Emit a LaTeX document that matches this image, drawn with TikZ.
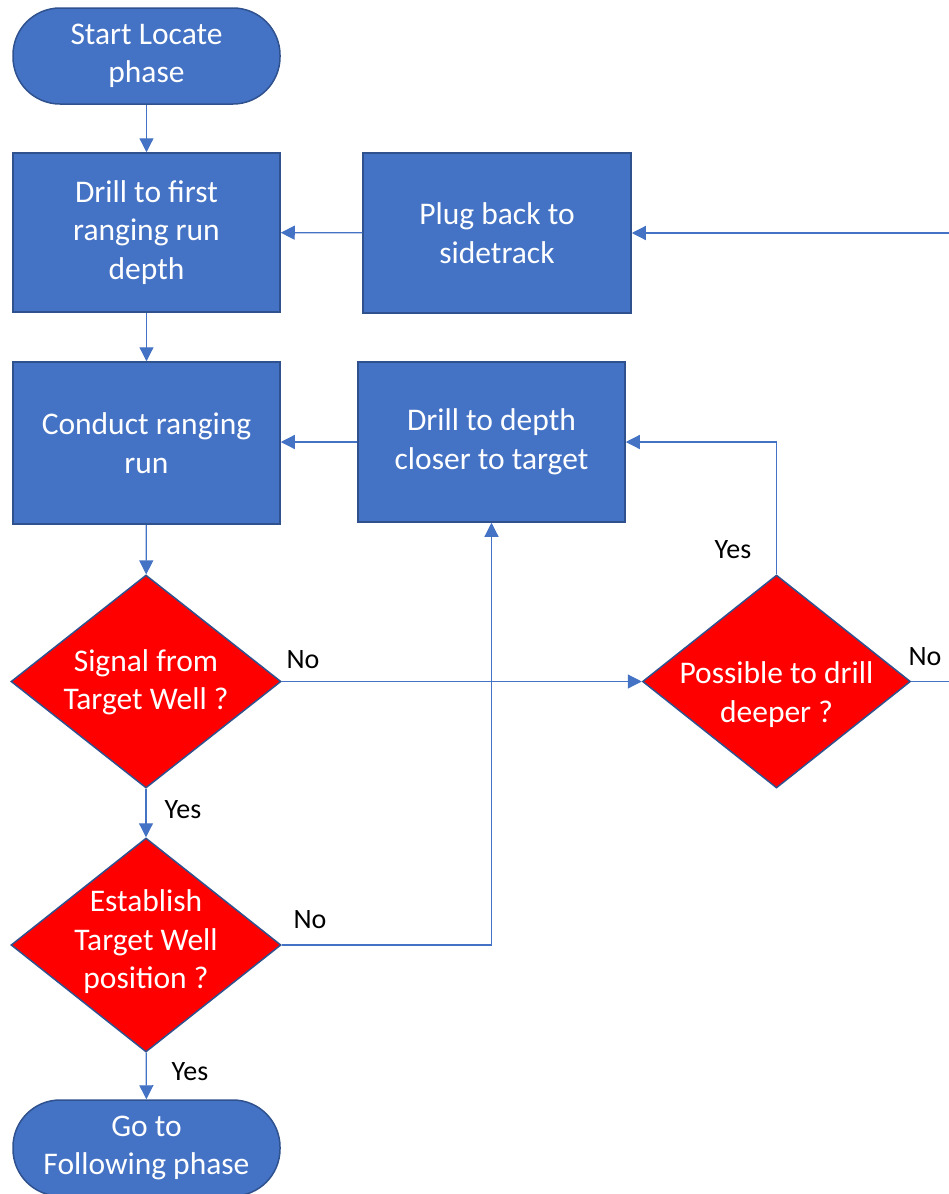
\documentclass[tikz,border=0pt]{standalone}
\usepackage{fontspec}
\setmainfont{Carlito}
\usetikzlibrary{shapes.geometric,arrows.meta}
\definecolor{boxblue}{HTML}{4472C4}
\definecolor{edgeblue}{HTML}{2F528F}
\definecolor{diared}{HTML}{FF0000}
\tikzset{
  procbox/.style={rectangle, fill=boxblue, draw=edgeblue, line width=1.5pt, inner sep=0pt,
    text=white, align=center, font=\fontsize{31.5}{38.5}\selectfont},
  termbox/.style={procbox, rounded corners=47pt},
  decbox/.style={diamond, fill=diared, draw=edgeblue, line width=1.5pt, inner sep=0pt},
  dectext/.style={text=white, align=center, font=\fontsize{31.5}{38.5}\selectfont, inner sep=0pt},
  conn/.style={draw=boxblue, line width=1.2pt, -{Triangle[length=14pt,width=14pt]}},
  lbl/.style={text=black, font=\fontsize{28}{32}\selectfont, inner sep=0pt}
}
\begin{document}
\begin{tikzpicture}[x=1pt,y=-1pt]
\useasboundingbox (0,0) rectangle (948,1194);
\node[termbox, minimum width=267pt, minimum height=96pt] (start) at (146.5,56) {Start Locate\\phase};
\node[procbox, minimum width=267pt, minimum height=159pt] (drill1) at (146.5,232.5) {Drill to first\\ranging run\\depth};
\node[procbox, minimum width=268pt, minimum height=160pt] (plug) at (497,233) {Plug back to\\sidetrack};
\node[procbox, minimum width=267pt, minimum height=162pt] (conduct) at (146.5,443) {Conduct ranging\\run};
\node[procbox, minimum width=267pt, minimum height=160pt] (depth) at (491.5,442) {Drill to depth\\closer to target};
\node[decbox, minimum width=270pt, minimum height=213pt,
  label={[dectext, yshift=-1pt]center:Signal from\\Target Well ?}] (signal) at (146,681.5) {};
\node[decbox, minimum width=268pt, minimum height=213pt,
  label={[dectext, yshift=-13pt]center:Possible to drill\\deeper ?}] (poss) at (776.5,681.5) {};
\node[decbox, minimum width=270pt, minimum height=214pt,
  label={[dectext, yshift=3pt]center:Establish\\Target Well\\position ?}] (estab) at (146,945) {};
\node[termbox, minimum width=267pt, minimum height=96pt] (goto) at (146.5,1148) {Go to\\Following phase};

\draw[conn] (start) -- (drill1);
\draw[conn] (plug) -- (drill1);
\draw[conn] (drill1) -- (conduct);
\draw[conn] (depth.west) -- (conduct.east |- depth.west);
\draw[conn] (conduct) -- (signal);
\draw[conn] (signal) -- (poss);
\draw[conn] (signal) -- (estab);
\draw[conn] (estab.east) -| (depth.south);
\draw[conn] (poss.north) |- (depth.east);
\draw[conn] (poss.east) -- ++(60,0) |- (plug.east);
\draw[conn] (estab) -- (goto);

\node[lbl] (l1) at (303,660) {No};
\node[lbl] (l2) at (733,550) {Yes};
\node[lbl] (l3) at (925,657) {No};
\node[lbl] (l4) at (183,810) {Yes};
\node[lbl] (l5) at (310,920) {No};
\node[lbl] (l6) at (190,1072) {Yes};
\end{tikzpicture}
\end{document}
